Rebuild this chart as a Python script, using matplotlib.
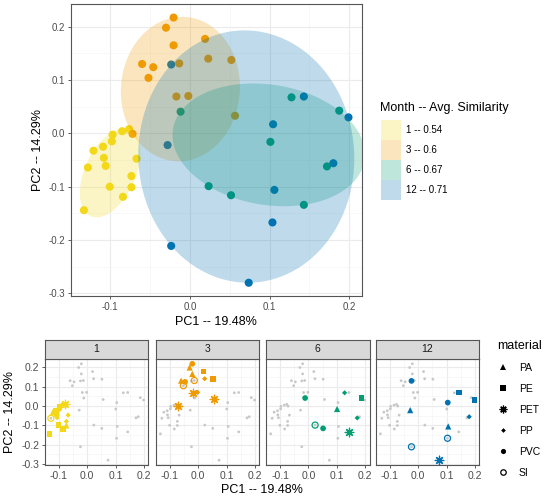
import numpy as np
import matplotlib
matplotlib.use("Agg")
import matplotlib.pyplot as plt
from matplotlib.patches import Patch
from matplotlib.lines import Line2D
from matplotlib.ticker import MultipleLocator

plt.rcParams['font.family'] = ['Liberation Sans', 'DejaVu Sans']

# PCA scores, one set per sampling month
months = ["1", "3", "6", "12"]
month_labels = ["1 -- 0.54", "3 -- 0.6", "6 -- 0.67", "12 -- 0.71"]

pc1_m1 = [-0.0763, -0.085, -0.097, -0.098, -0.109, -0.121, -0.108, -0.1057,
          -0.128, -0.067, -0.0734, -0.1006, -0.0734, -0.084, -0.133]
pc2_m1 = [0.008, 0.004, -0.0025, -0.015, -0.025, -0.0325, -0.046, -0.061,
          -0.064, -0.0475, -0.080, -0.100, -0.101, -0.119, -0.144]
mat_m1 = ["PET", "PVC", "PE", "PVC", "PE", "PA", "PVC", "PP",
          "SI", "PP", "PP", "PE", "PA", "PE", "PE"]

pc1_m3 = [-0.0205, -0.030, -0.0205, -0.060, -0.046, -0.052, 0.019,
          -0.0134, 0.023, 0.052, -0.017, -0.002, 0.0566, -0.072]
pc2_m3 = [0.217, 0.198, 0.165, 0.130, 0.124, 0.104, 0.177,
          0.131, 0.140, 0.1375, 0.069, 0.070, 0.033, -0.001]
mat_m3 = ["PVC", "PA", "PA", "PA", "PVC", "SI", "PE",
          "SI", "PP", "PE", "PET", "PP", "PET", "PET"]

pc1_m6 = [-0.0117, 0.1275, 0.1874, 0.101, 0.172, 0.0235, 0.0516, 0.143]
pc2_m6 = [0.0406, 0.0675, 0.0425, -0.016, -0.062, -0.099, -0.116, -0.134]
mat_m6 = ["PVC", "PP", "PE", "PA", "PP", "SI", "PVC", "PET"]

pc1_m12 = [-0.0235, 0.143, 0.199, 0.1044, 0.180, 0.106, 0.1036, -0.028, -0.0235, 0.0738]
pc2_m12 = [0.129, 0.069, 0.030, 0.017, -0.056, -0.106, -0.167, -0.022, -0.211, -0.280]
mat_m12 = ["PVC", "PE", "PE", "PVC", "PP", "PA", "SI", "PA", "SI", "PET"]

pc1 = [pc1_m1, pc1_m3, pc1_m6, pc1_m12]
pc2 = [pc2_m1, pc2_m3, pc2_m6, pc2_m12]
mats = [mat_m1, mat_m3, mat_m6, mat_m12]

materials = ["PA", "PE", "PET", "PP", "PVC", "SI"]
point_cols = ["#F3D818", "#EF9A00", "#009E73", "#0072B2"]
fill_alpha = 0.25


def enclosing_ellipse(x, y, tol=1e-6, segments=120):
    # minimum area ellipse around the points (Khachiyan), like ggforce's mark_ellipse
    P = np.column_stack([x, y])
    n, d = P.shape
    Q = np.vstack([P.T, np.ones(n)])
    u = np.ones(n) / n
    for _ in range(5000):
        X = Q @ np.diag(u) @ Q.T
        M = np.einsum("ij,ji->i", Q.T @ np.linalg.inv(X), Q)
        j = np.argmax(M)
        step = (M[j] - d - 1) / ((d + 1) * (M[j] - 1))
        new_u = (1 - step) * u
        new_u[j] += step
        done = np.linalg.norm(new_u - u) < tol
        u = new_u
        if done:
            break
    c = P.T @ u
    A = np.linalg.inv(P.T @ np.diag(u) @ P - np.outer(c, c)) / d
    vals, vecs = np.linalg.eigh(A)
    ang = np.linspace(0, 2 * np.pi, segments + 1)
    circ = np.vstack([np.cos(ang), np.sin(ang)])
    pts = vecs @ np.diag(1 / np.sqrt(vals)) @ circ
    return c[0] + pts[0], c[1] + pts[1]


marker_style = {
    "PA": dict(marker="^", s=20),
    "PE": dict(marker="s", s=17),
    "PET": dict(marker=(8, 2, 0), s=38, linewidths=0.9),
    "PP": dict(marker="D", s=7),
    "PVC": dict(marker="o", s=17),
    "SI": dict(marker="o", s=19, facecolors="none", linewidths=0.9),
}


def style_axes(ax, show_y=True, size=7):
    ax.set_facecolor("white")
    ax.xaxis.set_major_locator(MultipleLocator(0.1))
    ax.xaxis.set_minor_locator(MultipleLocator(0.05))
    ax.yaxis.set_major_locator(MultipleLocator(0.1))
    ax.yaxis.set_minor_locator(MultipleLocator(0.05))
    ax.grid(True, which="major", color="#EBEBEB", lw=0.8, zorder=0)
    ax.grid(True, which="minor", color="#F5F5F5", lw=0.5, zorder=0)
    ax.set_axisbelow(True)
    for sp in ax.spines.values():
        sp.set_color("#555555")
        sp.set_linewidth(0.8)
    ax.tick_params(which="major", length=2.5, width=0.6, color="#444444",
                   labelsize=size, labelcolor="#4D4D4D", pad=1.5)
    ax.tick_params(which="minor", length=0)
    fmt = lambda v, pos: f"{v:.1f}".replace("-0.0", "0.0")
    ax.xaxis.set_major_formatter(fmt)
    ax.yaxis.set_major_formatter(fmt)
    if not show_y:
        ax.tick_params(axis="y", which="both", left=False, labelleft=False)


fig = plt.figure(figsize=(5.5, 4.97), dpi=100)
W, H = 550, 497


def px_axes(x0, y0, x1, y1):
    return fig.add_axes([x0 / W, 1 - y1 / H, (x1 - x0) / W, (y1 - y0) / H])


all_pc1 = np.concatenate(pc1)
all_pc2 = np.concatenate(pc2)
pad_x = 0.05 * (all_pc1.max() - all_pc1.min())
pad_y = 0.05 * (all_pc2.max() - all_pc2.min())
xlim = (all_pc1.min() - pad_x, all_pc1.max() + pad_x)
ylim = (all_pc2.min() - pad_y, all_pc2.max() + pad_y)

# ---- top panel: all months with enclosing ellipses ----
ax = px_axes(70.7, 4.3, 361.7, 296)
style_axes(ax)
for i in range(4):
    ax.scatter(pc1[i], pc2[i], s=34, color=point_cols[i], edgecolors="none", zorder=2)
for i in range(4):
    ex, ey = enclosing_ellipse(np.array(pc1[i]), np.array(pc2[i]))
    ax.fill(ex, ey, color=point_cols[i], alpha=fill_alpha, lw=0, zorder=3)
ax.set_xlim(*xlim)
ax.set_ylim(*ylim)
ax.set_xlabel("PC1 -- 19.48%", fontsize=9, labelpad=3)
ax.set_ylabel("PC2 -- 14.29%", fontsize=9, labelpad=3)

fig.text(380 / W, 1 - 108 / H, "Month -- Avg. Similarity", fontsize=9,
         ha="left", va="center")
handles = [Patch(facecolor=c, alpha=fill_alpha, edgecolor="none") for c in point_cols]
fig.legend(handles, month_labels, loc="upper left",
           bbox_to_anchor=(380.5 / W, 1 - 120 / H),
           frameon=False, fontsize=7,
           handlelength=2.06, handleheight=2.79, labelspacing=0,
           handletextpad=0.6, borderpad=0, borderaxespad=0)

# ---- bottom panels: one facet per month, materials as shapes ----
lefts = [44.7, 155.7, 266.0, 375.7]
pw = 103.6
for i, m in enumerate(months):
    x0 = lefts[i]
    fa = px_axes(x0, 359, x0 + pw, 465)
    style_axes(fa, show_y=(i == 0), size=7.5)
    fa.scatter(all_pc1, all_pc2, s=4, color="#C8C8C8", edgecolors="none", zorder=2)
    x = np.array(pc1[i])
    y = np.array(pc2[i])
    mm = np.array(mats[i])
    for mat in materials:
        sel = mm == mat
        if not sel.any():
            continue
        st = dict(marker_style[mat])
        if st.get("facecolors") == "none":
            fa.scatter(x[sel], y[sel], edgecolors=point_cols[i], zorder=3, **st)
        elif mat == "PET":
            fa.scatter(x[sel], y[sel], color=point_cols[i], zorder=3, **st)
        else:
            fa.scatter(x[sel], y[sel], color=point_cols[i], edgecolors="none", zorder=3, **st)
    fa.set_xlim(*xlim)
    fa.set_ylim(*ylim)

    sa = px_axes(x0, 339.7, x0 + pw, 359)
    sa.set_facecolor("#D9D9D9")
    sa.set_xticks([])
    sa.set_yticks([])
    for sp in sa.spines.values():
        sp.set_color("#555555")
        sp.set_linewidth(0.8)
    sa.text(0.5, 0.5, m, ha="center", va="center", fontsize=7.5, color="#1A1A1A",
            transform=sa.transAxes)

fig.text((lefts[0] + lefts[3] + pw) / 2 / W, 1 - 490 / H, "PC1 -- 19.48%",
         ha="center", va="center", fontsize=9)
fig.text(10 / W, 1 - 412 / H, "PC2 -- 14.29%", rotation=90,
         ha="center", va="center", fontsize=9)

mat_handles = []
for mat in materials:
    st = marker_style[mat]
    face = "none" if st.get("facecolors") == "none" else "black"
    mat_handles.append(Line2D([], [], ls="none", marker=st["marker"],
                              markersize=np.sqrt(st["s"]) * 0.9,
                              markerfacecolor=face, markeredgecolor="black",
                              markeredgewidth=st.get("linewidths", 0)))
fig.legend(mat_handles, materials, title="material", loc="upper left",
           bbox_to_anchor=(497 / W, 1 - 340 / H), frameon=False,
           fontsize=7.5, title_fontsize=9, handlelength=1.2,
           handletextpad=0.9, labelspacing=1.05, borderpad=0,
           borderaxespad=0, alignment="left")

fig.savefig("out.png", dpi=100)
